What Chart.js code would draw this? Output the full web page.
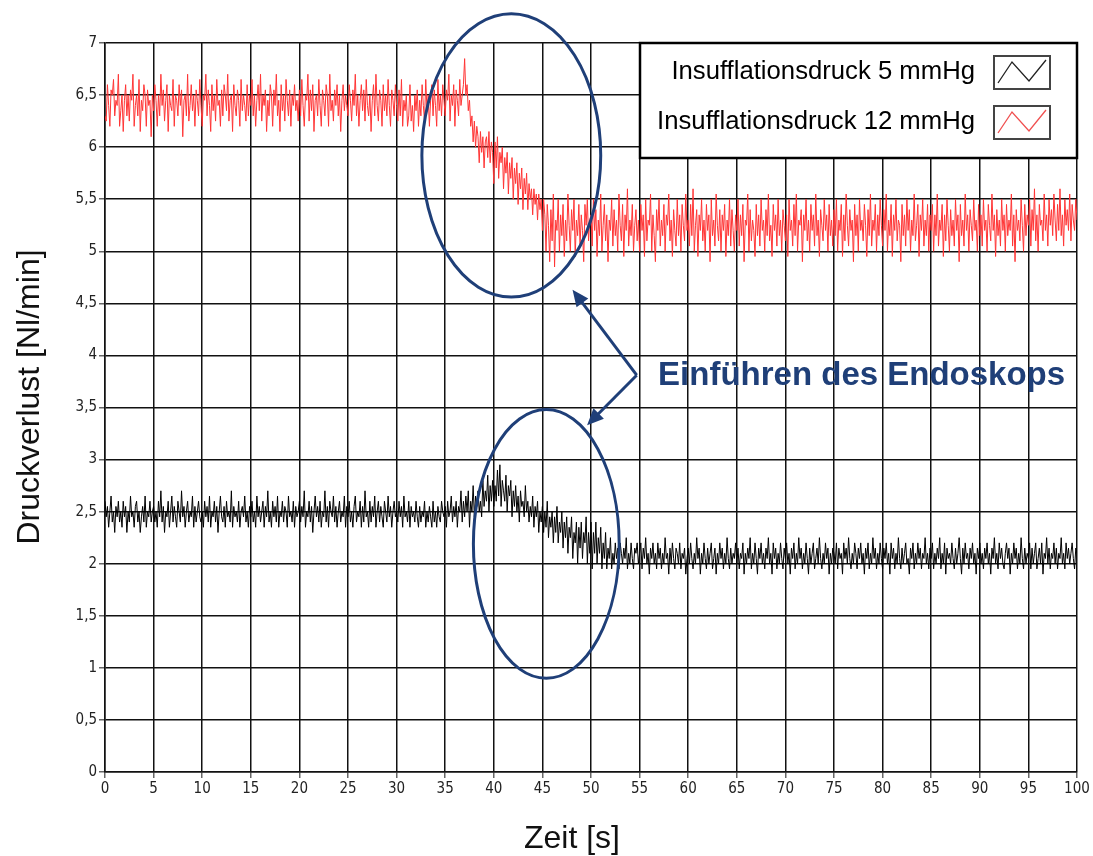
<!DOCTYPE html>
<html>
<head>
<meta charset="utf-8">
<script src="https://cdn.jsdelivr.net/npm/chart.js@4"></script>
<style>
  body { margin: 0; background: #fff; }
  canvas { display: block; }
</style>
</head>
<body>
<canvas id="chart" width="1093" height="856"></canvas>
<script>
// ---- data (one sample every 0.125 s) ----
const STEP = 0.125;
const SERIES_NAMES = ['Insufflationsdruck 5 mmHg', 'Insufflationsdruck 12 mmHg'];
const AXIS_TITLES = ['Zeit [s]', 'Druckverlust [Nl/min]'];
const X_TICKS = [0, 100, 5];
const Y_TICKS = [0, 7, 0.5];

const p12 = [
  6.3,6.25,6.6,6.4,6.2,6.55,6.5,6.65,6.3,6.45,6.4,6.7,6.2,6.35,6.5,6.15,6.45,6.6,6.3,6.5,
  6.25,6.55,6.45,6.7,6.2,6.4,6.5,6.3,6.65,6.15,6.45,6.35,6.6,6.5,6.2,6.55,6.4,6.45,6.1,6.5,
  6.35,6.6,6.45,6.2,6.5,6.3,6.7,6.4,6.55,6.25,6.45,6.6,6.15,6.5,6.4,6.35,6.65,6.2,6.5,6.45,
  6.3,6.6,6.4,6.55,6.1,6.45,6.5,6.3,6.7,6.25,6.4,6.6,6.35,6.5,6.2,6.55,6.45,6.3,6.65,6.4,
  6.2,6.5,6.45,6.7,6.3,6.55,6.4,6.15,6.6,6.35,6.5,6.25,6.65,6.4,6.45,6.2,6.55,6.3,6.6,6.5,
  6.35,6.7,6.25,6.45,6.5,6.15,6.6,6.4,6.3,6.55,6.45,6.2,6.65,6.35,6.5,6.4,6.25,6.6,6.3,6.5,
  6.4,6.65,6.3,6.5,6.2,6.45,6.6,6.35,6.7,6.25,6.5,6.4,6.55,6.15,6.45,6.3,6.6,6.5,6.2,6.55,
  6.4,6.7,6.3,6.45,6.15,6.6,6.35,6.5,6.25,6.65,6.45,6.3,6.55,6.2,6.5,6.4,6.6,6.35,6.45,6.25,
  6.55,6.3,6.65,6.4,6.2,6.5,6.45,6.7,6.25,6.55,6.35,6.6,6.15,6.45,6.5,6.3,6.65,6.4,6.2,6.55,
  6.45,6.3,6.6,6.5,6.2,6.7,6.35,6.45,6.25,6.55,6.4,6.6,6.3,6.5,6.15,6.45,6.6,6.35,6.5,6.4,
  6.3,6.6,6.45,6.25,6.55,6.4,6.7,6.3,6.5,6.2,6.45,6.6,6.35,6.55,6.25,6.65,6.4,6.3,6.5,6.15,
  6.45,6.6,6.3,6.7,6.4,6.25,6.55,6.45,6.2,6.6,6.35,6.5,6.3,6.65,6.4,6.2,6.55,6.45,6.3,6.6,
  6.4,6.25,6.55,6.3,6.65,6.2,6.45,6.35,6.5,6.2,6.3,6.6,6.25,6.4,6.15,6.5,6.35,6.55,6.2,6.45,
  6.3,6.6,6.4,6.25,6.65,6.35,6.5,6.2,6.45,6.6,6.3,6.55,6.4,6.2,6.65,6.35,6.5,6.3,6.6,6.45,
  6.3,6.55,6.45,6.7,6.25,6.5,6.4,6.6,6.2,6.55,6.45,6.3,6.65,6.4,6.5,6.6,6.85,6.5,6.6,6.35,
  6.45,6.2,6.3,6.05,6.25,6.0,6.2,6.1,5.85,6.15,5.95,6.1,5.8,6.05,6.1,5.9,6.15,5.85,6.05,5.95,
  5.65,6.05,5.8,6.1,5.7,5.95,5.85,6.0,5.6,5.9,5.75,5.95,5.55,5.85,5.7,5.9,5.5,5.8,5.65,5.85,
  5.45,5.75,5.6,5.8,5.4,5.7,5.55,5.75,5.4,5.65,5.5,5.6,5.35,5.6,5.45,5.55,5.3,5.55,5.4,5.5,
  5.2,5.5,5.35,5.0,5.45,5.25,4.9,5.4,5.1,5.55,4.85,5.3,5.2,5.5,5.0,5.35,5.15,5.45,4.95,5.3,
  5.1,5.55,5.25,5.0,5.4,5.2,5.5,4.95,5.3,5.15,5.45,5.05,5.35,5.2,4.9,5.45,5.25,5.5,5.1,5.3,
  5.35,5.05,5.5,5.2,5.4,4.95,5.3,5.15,5.55,5.0,5.25,5.45,5.1,5.35,4.9,5.3,5.2,5.5,5.05,5.4,
  5.15,5.3,5.0,5.55,5.25,5.1,5.45,4.95,5.35,5.2,5.6,5.05,5.3,5.15,5.45,5.0,5.25,5.4,5.1,5.3,
  5.0,5.45,5.2,5.35,4.95,5.5,5.1,5.3,5.25,5.55,5.0,5.35,5.15,4.9,5.4,5.2,5.5,5.05,5.3,5.15,
  5.45,5.0,5.35,5.25,5.55,5.1,5.3,4.95,5.4,5.2,5.05,5.5,5.15,5.35,5.0,5.45,5.25,5.1,5.55,5.2,
  5.3,5.05,5.45,5.15,5.6,5.0,5.25,5.4,4.95,5.35,5.2,5.5,5.1,5.3,5.0,5.45,5.2,5.35,4.9,5.5,
  5.15,5.3,5.05,5.55,5.25,5.1,5.4,5.0,5.35,5.2,5.45,4.95,5.3,5.15,5.5,5.05,5.4,5.2,5.0,5.35,
  5.2,5.5,5.05,5.35,5.15,5.45,4.9,5.3,5.25,5.55,5.0,5.4,5.1,5.3,5.2,4.95,5.45,5.15,5.35,5.05,
  5.5,5.2,5.3,5.0,5.4,5.15,5.55,5.1,5.25,4.95,5.45,5.2,5.35,5.05,5.5,5.15,5.3,5.0,5.4,5.25,
  5.1,5.35,4.95,5.5,5.2,5.3,5.05,5.45,5.15,5.55,5.0,5.3,5.25,5.4,4.9,5.35,5.2,5.5,5.1,5.3,
  5.0,5.45,5.2,5.35,5.05,5.55,5.15,5.3,4.95,5.4,5.25,5.1,5.5,5.2,5.35,5.0,5.45,5.15,5.3,5.05,
  5.4,5.15,5.5,5.0,5.3,5.2,5.45,4.95,5.35,5.1,5.55,5.25,5.05,5.4,5.2,5.3,4.9,5.45,5.15,5.35,
  5.0,5.5,5.2,5.3,5.1,5.45,5.25,4.95,5.4,5.15,5.55,5.05,5.3,5.2,5.45,5.0,5.35,5.15,5.5,5.25,
  5.05,5.4,5.2,5.55,5.0,5.3,5.15,5.45,4.95,5.35,5.2,5.5,5.1,5.3,5.25,4.9,5.45,5.15,5.35,5.05,
  5.5,5.2,5.4,5.0,5.3,5.15,5.55,5.1,5.25,5.45,4.95,5.35,5.2,5.5,5.05,5.3,5.15,5.45,5.0,5.35,
  5.2,5.45,5.0,5.35,5.15,5.55,5.05,5.3,5.2,5.45,4.95,5.35,5.1,5.5,5.25,5.0,5.4,5.15,5.3,5.05,
  5.5,5.2,5.35,4.9,5.45,5.15,5.3,5.05,5.55,5.2,5.35,5.0,5.4,5.25,5.1,5.5,5.2,5.3,5.0,5.45,
  5.15,5.35,5.05,5.5,5.2,5.3,5.0,5.45,5.25,5.1,5.55,5.2,5.35,4.95,5.4,5.15,5.3,5.05,5.5,5.2,
  5.35,5.0,5.45,5.15,5.3,5.2,5.55,5.05,5.35,4.9,5.4,5.2,5.3,5.1,5.5,5.25,5.0,5.45,5.15,5.35,
  5.25,5.5,5.05,5.4,5.2,5.6,5.1,5.35,5.0,5.45,5.25,5.3,5.1,5.55,5.2,5.35,5.05,5.5,5.25,5.4,
  5.15,5.55,5.3,5.1,5.45,5.2,5.6,5.15,5.35,5.05,5.5,5.25,5.4,5.2,5.55,5.1,5.45,5.3,5.2,5.5,
  5.3
];

const p5 = [
  2.6,2.45,2.55,2.35,2.5,2.65,2.4,2.5,2.3,2.55,2.45,2.6,2.4,2.5,2.35,2.6,2.45,2.55,2.3,2.5,
  2.4,2.65,2.45,2.5,2.35,2.55,2.6,2.4,2.5,2.3,2.45,2.55,2.4,2.65,2.35,2.5,2.45,2.6,2.4,2.5,
  2.55,2.4,2.5,2.35,2.6,2.45,2.7,2.4,2.55,2.3,2.5,2.45,2.6,2.35,2.5,2.65,2.4,2.55,2.45,2.35,
  2.6,2.5,2.4,2.7,2.45,2.55,2.35,2.5,2.6,2.4,2.5,2.45,2.65,2.35,2.55,2.4,2.5,2.6,2.45,2.4,
  2.5,2.35,2.6,2.45,2.55,2.4,2.65,2.35,2.5,2.45,2.6,2.4,2.55,2.3,2.5,2.65,2.45,2.4,2.55,2.35,
  2.6,2.45,2.5,2.4,2.7,2.35,2.55,2.45,2.5,2.4,2.6,2.35,2.5,2.55,2.45,2.65,2.4,2.5,2.35,2.55,
  2.45,2.6,2.4,2.5,2.35,2.65,2.45,2.55,2.4,2.5,2.6,2.35,2.55,2.45,2.7,2.4,2.5,2.35,2.6,2.45,
  2.55,2.4,2.65,2.35,2.5,2.45,2.6,2.4,2.55,2.5,2.35,2.65,2.45,2.5,2.4,2.6,2.35,2.55,2.45,2.5,
  2.6,2.4,2.55,2.45,2.7,2.35,2.5,2.45,2.6,2.4,2.55,2.3,2.5,2.65,2.45,2.55,2.4,2.6,2.35,2.5,
  2.45,2.7,2.4,2.55,2.35,2.6,2.5,2.45,2.65,2.4,2.55,2.35,2.5,2.6,2.4,2.5,2.45,2.65,2.35,2.55,
  2.45,2.6,2.4,2.5,2.35,2.55,2.65,2.4,2.5,2.45,2.6,2.35,2.55,2.4,2.7,2.45,2.5,2.35,2.6,2.4,
  2.55,2.45,2.65,2.35,2.5,2.6,2.4,2.55,2.45,2.35,2.6,2.5,2.4,2.65,2.45,2.55,2.35,2.5,2.6,2.45,
  2.5,2.4,2.6,2.45,2.55,2.35,2.65,2.45,2.5,2.4,2.6,2.35,2.55,2.45,2.5,2.4,2.6,2.45,2.35,2.55,
  2.4,2.5,2.45,2.6,2.35,2.5,2.4,2.55,2.45,2.35,2.6,2.4,2.5,2.35,2.55,2.45,2.4,2.6,2.5,2.45,
  2.55,2.35,2.6,2.45,2.5,2.65,2.4,2.55,2.45,2.6,2.35,2.55,2.5,2.7,2.4,2.6,2.45,2.65,2.5,2.7,
  2.35,2.6,2.5,2.75,2.45,2.65,2.55,2.7,2.5,2.6,2.45,2.8,2.55,2.7,2.6,2.85,2.5,2.75,2.6,2.8,
  2.55,2.75,2.6,2.9,2.65,2.95,2.55,2.8,2.7,2.6,2.85,2.5,2.75,2.65,2.8,2.45,2.7,2.55,2.75,2.5,
  2.65,2.4,2.7,2.55,2.6,2.45,2.75,2.5,2.6,2.4,2.55,2.45,2.65,2.35,2.55,2.45,2.6,2.3,2.5,2.4,
  2.55,2.3,2.5,2.35,2.6,2.25,2.45,2.35,2.5,2.2,2.45,2.3,2.55,2.2,2.4,2.3,2.5,2.15,2.4,2.25,
  2.45,2.1,2.35,2.25,2.45,2.05,2.3,2.2,2.4,2.0,2.35,2.15,2.4,2.05,2.3,2.2,2.45,2.0,2.3,2.1,
  2.4,1.95,2.3,2.1,2.4,2.0,2.25,2.1,2.35,1.95,2.2,2.05,2.3,1.95,2.15,2.05,2.25,1.95,2.1,2.0,
  2.2,2.05,2.15,1.95,2.2,2.1,2.0,2.15,2.05,2.25,1.95,2.1,2.0,2.2,2.05,1.95,2.15,2.1,2.2,2.0,
  2.1,2.2,1.95,2.15,2.05,2.25,2.0,2.1,1.9,2.15,2.05,2.2,2.0,2.1,1.95,2.2,2.05,2.15,1.95,2.1,
  2.0,2.25,2.05,2.1,1.9,2.15,2.0,2.2,2.05,1.95,2.15,2.1,2.0,2.2,1.95,2.1,2.05,2.15,1.9,2.05,
  2.15,2.0,2.2,2.05,1.95,2.1,2.0,2.25,2.05,2.15,1.9,2.1,2.0,2.2,2.05,1.95,2.15,2.0,2.1,2.2,
  1.95,2.05,2.15,1.9,2.1,2.0,2.2,2.05,2.15,1.95,2.1,2.0,2.25,2.05,1.95,2.15,2.0,2.1,2.05,2.2,
  2.0,2.15,1.95,2.1,2.05,2.2,1.9,2.1,2.0,2.15,2.05,2.25,1.95,2.1,2.0,2.2,2.05,1.9,2.15,2.05,
  2.2,2.0,2.1,1.95,2.15,2.05,2.25,2.0,2.1,1.9,2.2,2.05,2.15,1.95,2.1,2.0,2.2,2.05,1.95,2.15,
  2.05,2.2,2.0,2.1,1.9,2.15,2.05,2.2,1.95,2.1,2.0,2.25,2.05,2.15,1.95,2.1,2.0,2.2,2.05,1.9,
  2.15,2.0,2.1,2.2,1.95,2.05,2.15,2.0,2.25,2.05,1.95,2.1,2.0,2.2,2.05,2.15,1.9,2.1,2.0,2.15,
  2.1,2.0,2.2,1.95,2.15,2.05,2.1,1.9,2.2,2.05,2.15,2.0,2.25,2.05,1.95,2.1,2.0,2.2,2.1,1.95,
  2.15,2.05,2.2,2.0,2.1,1.9,2.15,2.05,2.2,1.95,2.1,2.0,2.25,2.05,2.15,1.95,2.1,2.0,2.2,2.05,
  1.95,2.15,2.05,2.2,2.0,2.1,1.9,2.2,2.05,2.15,1.95,2.1,2.0,2.25,2.05,1.95,2.15,2.0,2.1,2.2,
  2.0,2.05,1.9,2.15,2.05,2.2,1.95,2.1,2.0,2.2,2.05,2.15,1.95,2.1,2.05,2.25,2.0,2.1,1.95,2.15,
  2.05,2.2,1.95,2.1,2.0,2.15,2.05,2.25,1.95,2.1,2.0,2.2,1.9,2.15,2.05,2.1,2.0,2.2,2.05,1.95,
  2.15,2.0,2.1,2.25,2.05,1.9,2.15,2.0,2.2,2.05,2.1,1.95,2.15,2.05,2.2,2.0,2.1,1.9,2.15,2.05,
  2.2,2.0,2.1,1.95,2.15,2.05,2.2,2.0,2.1,1.9,2.15,2.05,2.25,2.0,2.1,1.95,2.2,2.05,2.15,2.0,
  1.95,2.1,2.2,2.05,2.15,1.9,2.1,2.0,2.2,2.05,2.15,1.95,2.1,2.0,2.25,2.05,1.95,2.15,2.0,2.1,
  2.05,2.2,1.95,2.15,2.0,2.1,2.2,1.95,2.05,2.15,2.0,2.2,1.9,2.1,2.05,2.25,2.0,2.15,1.95,2.1,
  2.05,2.2,2.0,2.15,1.95,2.1,2.05,2.25,2.0,2.1,1.95,2.2,2.05,2.15,2.0,2.1,2.2,2.05,1.95,2.15,
  2.1
];

const NAVY = '#1f3f78';
const TICK_FONT = { family: "'Liberation Sans Narrow', 'DejaVu Sans Condensed', sans-serif", size: 15 };

const toPoints = arr => arr.map((v, i) => ({ x: i * STEP, y: v }));
const comma = v => String(v).replace('.', ',');

// ---- axis titles (placed like the original, slightly off-centre) ----
const axisTitles = {
    id: 'axisTitles',
    afterDraw(chart) {
        const { ctx } = chart;
        ctx.save();
        ctx.fillStyle = '#111';
        ctx.font = "32px 'Liberation Sans', Arial, sans-serif";
        ctx.textAlign = 'center';
        ctx.textBaseline = 'middle';
        ctx.fillText(AXIS_TITLES[0], 572, 839);
        ctx.translate(30, 397);
        ctx.rotate(-Math.PI / 2);
        ctx.fillText(AXIS_TITLES[1], 0, 0);
        ctx.restore();
    }
};

// ---- annotation: two ellipses, arrows and label ----
const annotate = {
    id: 'annotate',
    afterDraw(chart) {
        const { ctx, scales: { x, y } } = chart;
        ctx.save();
        ctx.strokeStyle = NAVY;
        ctx.fillStyle = NAVY;
        ctx.lineWidth = 3;

        const ellipse = (cx, cy, rx, ry) => {
            const px = x.getPixelForValue(cx), py = y.getPixelForValue(cy);
            const w = x.getPixelForValue(cx + rx) - px;
            const h = py - y.getPixelForValue(cy + ry);
            ctx.beginPath();
            ctx.ellipse(px, py, w, h, 0, 0, Math.PI * 2);
            ctx.stroke();
        };
        ellipse(41.8, 5.92, 9.2, 1.36);
        ellipse(45.4, 2.19, 7.5, 1.29);

        const arrow = (x0, y0, x1, y1) => {
            const ax = x.getPixelForValue(x0), ay = y.getPixelForValue(y0);
            const bx = x.getPixelForValue(x1), by = y.getPixelForValue(y1);
            const ang = Math.atan2(by - ay, bx - ax);
            const len = 18, spread = 0.42;
            ctx.beginPath();
            ctx.moveTo(ax, ay);
            ctx.lineTo(bx - Math.cos(ang) * len * 0.7, by - Math.sin(ang) * len * 0.7);
            ctx.stroke();
            ctx.beginPath();
            ctx.moveTo(bx, by);
            ctx.lineTo(bx - len * Math.cos(ang - spread), by - len * Math.sin(ang - spread));
            ctx.lineTo(bx - len * Math.cos(ang + spread), by - len * Math.sin(ang + spread));
            ctx.closePath();
            ctx.fill();
        };
        arrow(54.7, 3.81, 48.1, 4.63);
        arrow(54.7, 3.81, 49.6, 3.33);

        ctx.font = "bold 33px 'Liberation Sans', Arial, sans-serif";
        ctx.textAlign = 'left';
        ctx.textBaseline = 'middle';
        ctx.fillText('Einführen des Endoskops', x.getPixelForValue(56.9), y.getPixelForValue(3.80));
        ctx.restore();
    }
};

// ---- legend box in the top right corner ----
const legendBox = {
    id: 'legendBox',
    afterDraw(chart) {
        const { ctx, chartArea: a } = chart;
        const left = 640, top = a.top, right = a.right, bottom = 158;
        ctx.save();
        ctx.fillStyle = '#fff';
        ctx.fillRect(left, top, right - left, bottom - top);
        ctx.strokeStyle = '#000';
        ctx.lineWidth = 2.5;
        ctx.strokeRect(left, top, right - left, bottom - top);

        const colors = ['#222', '#f05050'];
        const rows = [72, 122];
        ctx.font = "25.7px 'Liberation Sans', Arial, sans-serif";
        ctx.textAlign = 'right';
        ctx.textBaseline = 'middle';
        rows.forEach((cy, i) => {
            ctx.fillStyle = '#000';
            ctx.fillText(SERIES_NAMES[i], 975, cy);
            ctx.strokeStyle = '#444';
            ctx.lineWidth = 2;
            ctx.strokeRect(994, cy - 16, 56, 33);
            ctx.strokeStyle = colors[i];
            ctx.lineWidth = 1.3;
            ctx.beginPath();
            ctx.moveTo(998, cy + 11);
            ctx.lineTo(1012, cy - 10);
            ctx.lineTo(1029, cy + 9);
            ctx.lineTo(1046, cy - 12);
            ctx.stroke();
        });
        ctx.restore();
    }
};

new Chart(document.getElementById('chart'), {
    type: 'line',
    data: {
        datasets: [
            { label: SERIES_NAMES[1], data: toPoints(p12), borderColor: '#ff3535', borderWidth: 1 },
            { label: SERIES_NAMES[0], data: toPoints(p5), borderColor: '#000', borderWidth: 1 }
        ]
    },
    options: {
        responsive: false,
        animation: false,
        layout: { padding: { top: 43, right: 16, left: 0, bottom: 0 } },
        elements: { point: { radius: 0 }, line: { tension: 0 } },
        plugins: { legend: { display: false }, tooltip: { enabled: false } },
        scales: {
            x: {
                type: 'linear',
                min: X_TICKS[0], max: X_TICKS[1],
                afterFit: s => { s.height = 84; },
                ticks: { stepSize: X_TICKS[2], color: '#222', font: TICK_FONT, padding: 2, maxRotation: 0 },
                grid: { color: '#111', lineWidth: 1.5, tickLength: 6, tickColor: '#666' },
                border: { color: '#111', width: 1.5 }
            },
            y: {
                min: Y_TICKS[0], max: Y_TICKS[1],
                afterFit: s => { s.width = 105; },
                ticks: { stepSize: Y_TICKS[2], color: '#222', font: TICK_FONT, padding: 2, callback: v => comma(v) },
                grid: { color: '#111', lineWidth: 1.5, tickLength: 6, tickColor: '#666' },
                border: { color: '#111', width: 1.5 }
            }
        }
    },
    plugins: [axisTitles, annotate, legendBox]
});
</script>
</body>
</html>
